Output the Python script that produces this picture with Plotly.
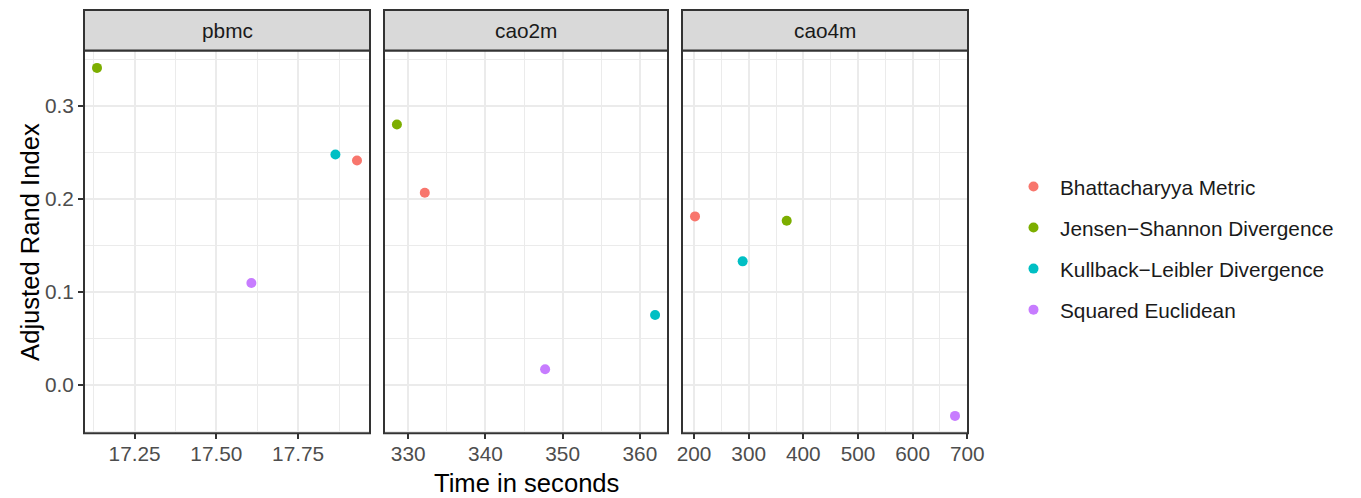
import plotly.graph_objects as go

# The page body has an 8px margin; the figure is sized to fit the window.
OFF = 8
W, H = 1361 - OFF, 498 - OFF

datasets = ["pbmc", "cao2m", "cao4m"]
methods = ["Bhattacharyya Metric", "Jensen\u2212Shannon Divergence",
           "Kullback\u2212Leibler Divergence", "Squared Euclidean"]
colors = ["#F8766D", "#7CAE00", "#00BFC4", "#C77CFF"]

# values per dataset, in the order of `methods`
time_pbmc = [17.93, 17.135, 17.864, 17.607]
ari_pbmc = [0.241, 0.3405, 0.2475, 0.1094]
time_cao2m = [332.15, 328.54, 361.97, 347.73]
ari_cao2m = [0.2064, 0.2797, 0.0751, 0.0168]
time_cao4m = [201.8, 369.6, 289.0, 677.5]
ari_cao4m = [0.181, 0.1764, 0.1327, -0.0333]

x_dtick = [0.25, 10, 100]
x_format = [".2f", "d", "d"]
y_dtick = 0.1

times = [time_pbmc, time_cao2m, time_cao4m]
aris = [ari_pbmc, ari_cao2m, ari_cao4m]

# layout in window pixels
panels_px = [(84, 370), (384, 668), (682, 968)]
top_px, bot_px = 50.5, 433.3
strip_top_px = 10


def px(p):
    return (p - OFF) / W


def py(p):
    return 1 - (p - OFF) / H


def expand(vals, f=0.05):
    lo, hi = min(vals), max(vals)
    d = (hi - lo) * f
    return [lo - d, hi + d]


all_ari = ari_pbmc + ari_cao2m + ari_cao4m
yrange = expand(all_ari)

fig = go.Figure()
GRID = "#EBEBEB"
DARK = "#333333"
FONT = "Liberation Sans, Arial, sans-serif"
SMALL = 20.8
BIG = 25.6

for i, ds in enumerate(datasets):
    xa = "x" if i == 0 else f"x{i+1}"
    ya = "y" if i == 0 else f"y{i+1}"
    for j, m in enumerate(methods):
        fig.add_trace(go.Scatter(
            x=[times[i][j]], y=[aris[i][j]], mode="markers",
            marker=dict(color=colors[j], size=10),
            name=m, legendgroup=m, showlegend=(i == 0),
            xaxis=xa, yaxis=ya,
        ))
    l, r = panels_px[i]
    xkey = "xaxis" if i == 0 else f"xaxis{i+1}"
    ykey = "yaxis" if i == 0 else f"yaxis{i+1}"
    fig.layout[xkey] = dict(
        domain=[px(l), px(r)], anchor=ya, range=expand(times[i]),
        tick0=0, dtick=x_dtick[i], tickformat=x_format[i],
        showgrid=True, gridcolor=GRID, gridwidth=2,
        minor=dict(showgrid=True, gridcolor=GRID, gridwidth=1,
                   tick0=0, dtick=x_dtick[i] / 2),
        ticks="outside", ticklen=5, tickwidth=2, tickcolor=DARK,
        ticklabelstandoff=-3,
        tickfont=dict(size=SMALL, color="#4D4D4D", family=FONT),
        zeroline=False, showline=False, automargin=False, fixedrange=True,
    )
    fig.layout[ykey] = dict(
        domain=[py(bot_px), py(top_px)], anchor=xa, range=yrange,
        tick0=0, dtick=y_dtick, tickformat=".1f",
        showgrid=True, gridcolor=GRID, gridwidth=2,
        minor=dict(showgrid=True, gridcolor=GRID, gridwidth=1,
                   tick0=0, dtick=y_dtick / 2),
        ticks="outside" if i == 0 else "", ticklen=5, tickwidth=2,
        tickcolor=DARK, showticklabels=(i == 0),
        tickfont=dict(size=SMALL, color="#4D4D4D", family=FONT),
        zeroline=False, showline=False, automargin=False, fixedrange=True,
    )
    # panel border
    fig.add_shape(type="rect", xref="paper", yref="paper",
                  x0=px(l), x1=px(r), y0=py(bot_px), y1=py(top_px),
                  line=dict(color=DARK, width=2), fillcolor="rgba(0,0,0,0)",
                  layer="above")
    # strip
    fig.add_shape(type="rect", xref="paper", yref="paper",
                  x0=px(l), x1=px(r), y0=py(top_px), y1=py(strip_top_px),
                  line=dict(color=DARK, width=2), fillcolor="#D9D9D9",
                  layer="above")
    fig.add_annotation(x=px((l + r) / 2), y=py((top_px + strip_top_px) / 2),
                       xref="paper", yref="paper", text=ds, showarrow=False,
                       font=dict(size=SMALL, color="#1A1A1A", family=FONT),
                       xanchor="center", yanchor="middle")

# axis titles
fig.add_annotation(x=px((panels_px[0][0] + panels_px[2][1]) / 2), y=py(483),
                   xref="paper", yref="paper", text="Time in seconds",
                   showarrow=False, xanchor="center", yanchor="middle",
                   font=dict(size=BIG, color="black", family=FONT))
fig.add_annotation(x=px(30), y=py((top_px + bot_px) / 2),
                   xref="paper", yref="paper", text="Adjusted Rand Index",
                   showarrow=False, textangle=-90, xanchor="center",
                   yanchor="middle",
                   font=dict(size=BIG, color="black", family=FONT))

fig.update_layout(
    width=W, height=H,
    margin=dict(l=0, r=0, t=0, b=0),
    paper_bgcolor="white", plot_bgcolor="white",
    font=dict(family=FONT),
    legend=dict(x=px(1007), y=py(248.5), xanchor="left", yanchor="middle",
                font=dict(size=SMALL, color="#1A1A1A", family=FONT),
                tracegroupgap=11, itemwidth=43, bgcolor="rgba(0,0,0,0)"),
    showlegend=True,
)

fig.write_html("out.html")
